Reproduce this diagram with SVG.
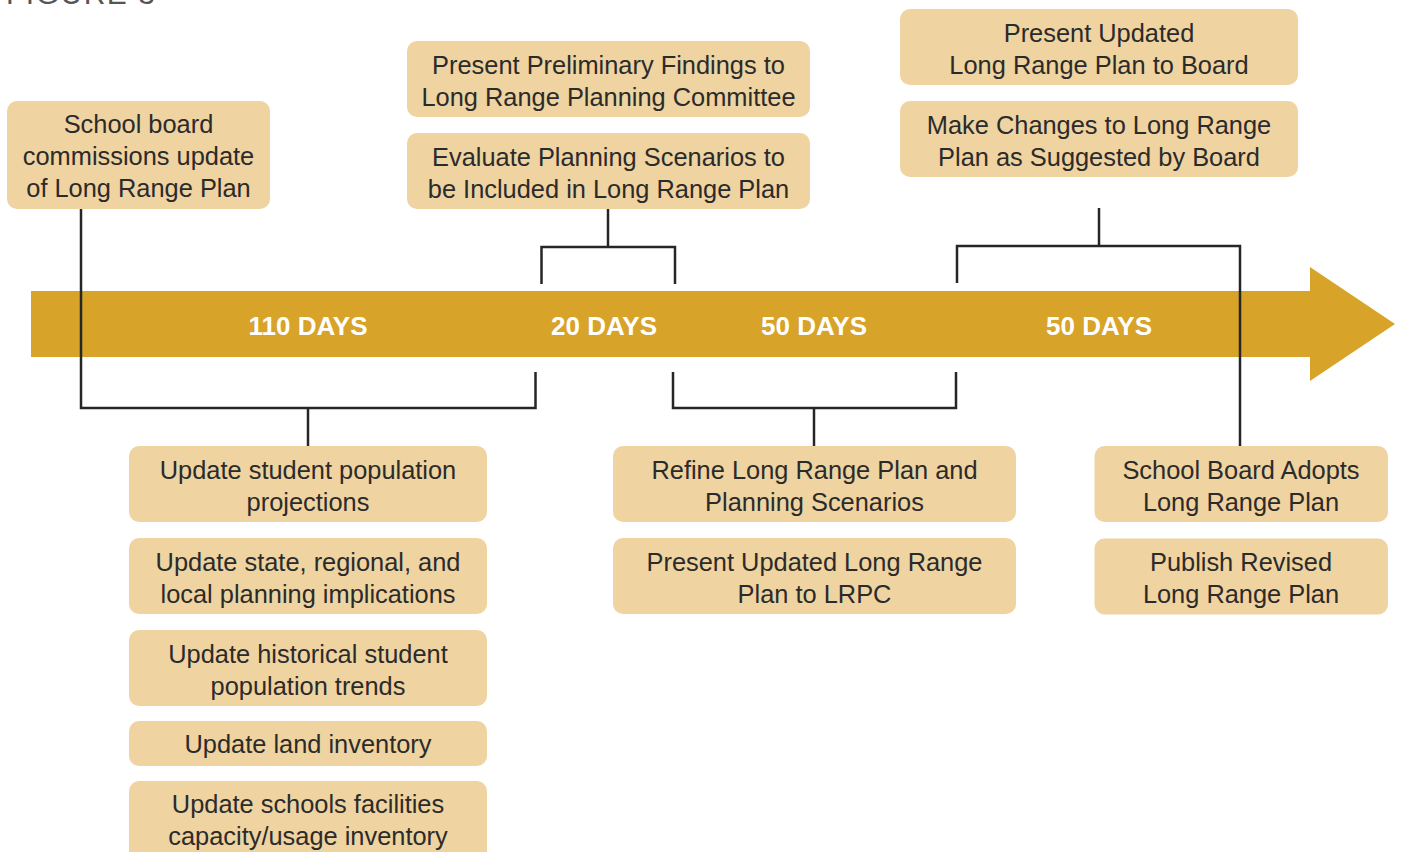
<svg xmlns="http://www.w3.org/2000/svg" width="1402" height="852" viewBox="0 0 1402 852">
<defs>
<style>
.box{fill:#EFD3A0;}
.t{font-family:"Liberation Sans",Arial,sans-serif;font-size:25.4px;fill:#2b2b2b;text-anchor:middle;}
.d{font-family:"Liberation Sans",Arial,sans-serif;font-size:26px;font-weight:bold;fill:#ffffff;text-anchor:middle;}
.c{fill:none;stroke:#262626;stroke-width:2.5;stroke-linejoin:miter;stroke-linecap:butt;}
</style>
</defs>
<rect width="1402" height="852" fill="#ffffff"/>
<text x="6" y="4" font-family="'Liberation Sans',Arial,sans-serif" font-size="30" letter-spacing="1.5" fill="#555555">FIGURE 3</text>

<g id="timeline">
<polygon points="31,291 1310,291 1310,267 1395,324 1310,381 1310,357 31,357" fill="#D8A329"/>
<text class="d" x="308" y="335">110 DAYS</text>
<text class="d" x="604" y="335">20 DAYS</text>
<text class="d" x="814" y="335">50 DAYS</text>
<text class="d" x="1099" y="335">50 DAYS</text>
</g>

<g id="connectors">
<path class="c" d="M81,209 V408 H535.5 V372"/>
<path class="c" d="M308,408 V446"/>
<path class="c" d="M608,209 V247"/>
<path class="c" d="M541.5,284 V247 H675 V284"/>
<path class="c" d="M673,372 V408 H956 V372"/>
<path class="c" d="M814,408 V446"/>
<path class="c" d="M1099,208 V246"/>
<path class="c" d="M957,283 V246 H1240 V446"/>
</g>

<g id="n-school-board">
<rect class="box" x="7" y="101" width="263" height="108" rx="10"/>
<text class="t" x="138.5" y="133">School board</text>
<text class="t" x="138.5" y="165">commissions update</text>
<text class="t" x="138.5" y="197">of Long Range Plan</text>
</g>

<g id="n-present-prelim">
<rect class="box" x="407" y="41" width="403" height="76" rx="10"/>
<text class="t" x="608.5" y="74">Present Preliminary Findings to</text>
<text class="t" x="608.5" y="106">Long Range Planning Committee</text>
</g>

<g id="n-evaluate">
<rect class="box" x="407" y="133" width="403" height="76" rx="10"/>
<text class="t" x="608.5" y="166">Evaluate Planning Scenarios to</text>
<text class="t" x="608.5" y="198">be Included in Long Range Plan</text>
</g>

<g id="n-present-board">
<rect class="box" x="900" y="9" width="398" height="76" rx="10"/>
<text class="t" x="1099" y="42">Present Updated</text>
<text class="t" x="1099" y="74">Long Range Plan to Board</text>
</g>

<g id="n-make-changes">
<rect class="box" x="900" y="101" width="398" height="76" rx="10"/>
<text class="t" x="1099" y="134">Make Changes to Long Range</text>
<text class="t" x="1099" y="166">Plan as Suggested by Board</text>
</g>

<g id="n-projections">
<rect class="box" x="129" y="446" width="358" height="76" rx="10"/>
<text class="t" x="308" y="479">Update student population</text>
<text class="t" x="308" y="511">projections</text>
</g>

<g id="n-implications">
<rect class="box" x="129" y="538" width="358" height="76" rx="10"/>
<text class="t" x="308" y="571">Update state, regional, and</text>
<text class="t" x="308" y="603">local planning implications</text>
</g>

<g id="n-trends">
<rect class="box" x="129" y="630" width="358" height="76" rx="10"/>
<text class="t" x="308" y="663">Update historical student</text>
<text class="t" x="308" y="695">population trends</text>
</g>

<g id="n-land">
<rect class="box" x="129" y="721" width="358" height="45" rx="10"/>
<text class="t" x="308" y="753">Update land inventory</text>
</g>

<g id="n-facilities">
<rect class="box" x="129" y="781" width="358" height="80" rx="10"/>
<text class="t" x="308" y="813">Update schools facilities</text>
<text class="t" x="308" y="845">capacity/usage inventory</text>
</g>

<g id="n-refine">
<rect class="box" x="613" y="446" width="403" height="76" rx="10"/>
<text class="t" x="814.5" y="479">Refine Long Range Plan and</text>
<text class="t" x="814.5" y="511">Planning Scenarios</text>
</g>

<g id="n-present-lrpc">
<rect class="box" x="613" y="538" width="403" height="76" rx="10"/>
<text class="t" x="814.5" y="571">Present Updated Long Range</text>
<text class="t" x="814.5" y="603">Plan to LRPC</text>
</g>

<g id="n-adopts">
<rect class="box" x="1094.5" y="446" width="293.5" height="76" rx="10"/>
<text class="t" x="1241" y="479">School Board Adopts</text>
<text class="t" x="1241" y="511">Long Range Plan</text>
</g>

<g id="n-publish">
<rect class="box" x="1094.5" y="538.5" width="293.5" height="76" rx="10"/>
<text class="t" x="1241" y="571">Publish Revised</text>
<text class="t" x="1241" y="603">Long Range Plan</text>
</g>
</svg>
